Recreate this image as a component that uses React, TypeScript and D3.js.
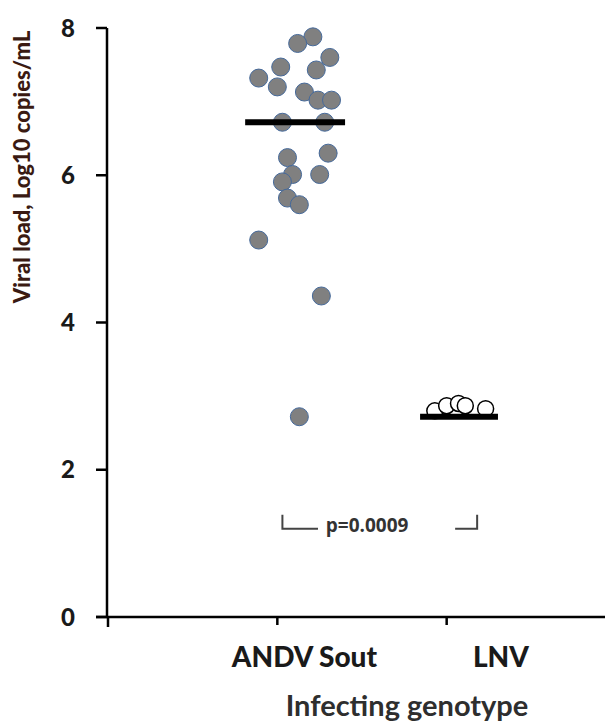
import React, { useEffect, useRef } from "react";
import * as d3 from "d3";

// genotype groups
const categories = ["ANDV Sout", "LNV"];
const yTicks = [0, 2, 4, 6, 8];

// ANDV Sout viral loads (log10 copies/mL) and their scatter position (category units)
const andvValues = [7.88, 7.79, 7.6, 7.43, 7.47, 7.32, 7.2, 7.13, 7.02, 7.02, 6.72, 6.72, 6.3, 6.24, 6.01, 6.01, 5.91, 5.69, 5.6, 5.12, 4.36, 2.72];
const andvX = [1.21, 1.12, 1.31, 1.23, 1.02, 0.89, 1.0, 1.16, 1.24, 1.32, 1.03, 1.28, 1.3, 1.06, 1.25, 1.09, 1.03, 1.06, 1.13, 0.89, 1.26, 1.13];

// LNV viral loads
const lnvValues = [2.8, 2.87, 2.9, 2.87, 2.83];
const lnvX = [1.93, 2.0, 2.07, 2.11, 2.23];

// medians
const medians = [6.72, 2.72];
const medianCenter = [1.105, 2.073];
const medianHalf = [0.295, 0.23];

const labelX = [1.16, 2.32];

export default function App() {
  const ref = useRef<SVGSVGElement>(null);

  useEffect(() => {
    document.body.style.margin = "0";
    const svg = d3.select(ref.current);
    svg.selectAll("*").remove();

    const y = d3.scaleLinear().domain([0, 8]).range([617, 28]);
    const x = d3.scaleLinear().domain([0, 3]).range([108, 616]);

    // y axis
    svg.append("line").attr("x1", 107).attr("x2", 107).attr("y1", y(8)).attr("y2", y(0) + 1)
      .attr("stroke", "#000").attr("stroke-width", 2.5);
    svg.selectAll(".ytick").data(yTicks).join("line")
      .attr("x1", 96).attr("x2", 107).attr("y1", (d) => y(d)).attr("y2", (d) => y(d))
      .attr("stroke", "#000").attr("stroke-width", 2.5);
    svg.selectAll(".ylab").data(yTicks).join("text")
      .attr("x", 75).attr("y", (d) => y(d)).attr("dy", "0.36em")
      .attr("text-anchor", "end")
      .style("font", "900 24px Lato").attr("fill", "#1a1a1a")
      .text((d) => d);

    // x axis
    svg.append("line").attr("x1", 96).attr("x2", 605).attr("y1", y(0)).attr("y2", y(0))
      .attr("stroke", "#000").attr("stroke-width", 2.5);
    svg.selectAll(".xtick").data([0, 1, 2]).join("line")
      .attr("x1", (d) => x(d)).attr("x2", (d) => x(d))
      .attr("y1", y(0)).attr("y2", (d) => (d === 0 ? y(0) + 10 : y(0) + 8))
      .attr("stroke", "#000").attr("stroke-width", 2.5);
    svg.selectAll(".xlab").data(categories).join("text")
      .attr("x", (d, i) => x(labelX[i])).attr("y", 667)
      .attr("text-anchor", "middle")
      .style("font", "900 28px Lato").attr("fill", "#1a1a1a")
      .text((d) => d);

    svg.append("text").attr("x", 407).attr("y", 716).attr("text-anchor", "middle")
      .style("font", "bold 29px Lato").attr("fill", "#2e2e2e")
      .text("Infecting genotype");

    svg.append("text")
      .attr("transform", `translate(30,167) rotate(-90)`)
      .attr("text-anchor", "middle")
      .style("font", "900 22px Lato").attr("fill", "#3a1a12")
      .text("Viral load, Log10 copies/mL");

    // ANDV points
    svg.append("g").selectAll("circle").data(andvValues).join("circle")
      .attr("cx", (d, i) => x(andvX[i])).attr("cy", (d) => y(d)).attr("r", 9)
      .attr("fill", "#808080").attr("stroke", "#45699a").attr("stroke-width", 1);

    // LNV points
    svg.append("g").selectAll("circle").data(lnvValues).join("circle")
      .attr("cx", (d, i) => x(lnvX[i])).attr("cy", (d) => y(d)).attr("r", 8)
      .attr("fill", "#fff").attr("stroke", "#000").attr("stroke-width", 1.5);

    // medians
    svg.append("g").selectAll("line").data(medians).join("line")
      .attr("x1", (d, i) => x(medianCenter[i] - medianHalf[i]))
      .attr("x2", (d, i) => x(medianCenter[i] + medianHalf[i]))
      .attr("y1", (d) => y(d)).attr("y2", (d) => y(d))
      .attr("stroke", "#000").attr("stroke-width", 6);

    // p-value bracket
    const by = y(1.2);
    const bk = svg.append("g").attr("stroke", "#444").attr("stroke-width", 2).attr("fill", "none");
    bk.append("path").attr("d", `M${x(1.03)},${by - 14}V${by}H${x(1.24)}`);
    bk.append("path").attr("d", `M${x(2.05)},${by}H${x(2.18)}V${by - 14}`);
    svg.append("text").attr("x", x(1.53)).attr("y", by).attr("dy", "0.15em")
      .attr("text-anchor", "middle")
      .style("font", "bold 19px 'Open Sans'").attr("fill", "#333")
      .text("p=0.0009");
  }, []);

  return <svg ref={ref} width={605} height={727} style={{ display: "block", background: "#fff" }} />;
}
